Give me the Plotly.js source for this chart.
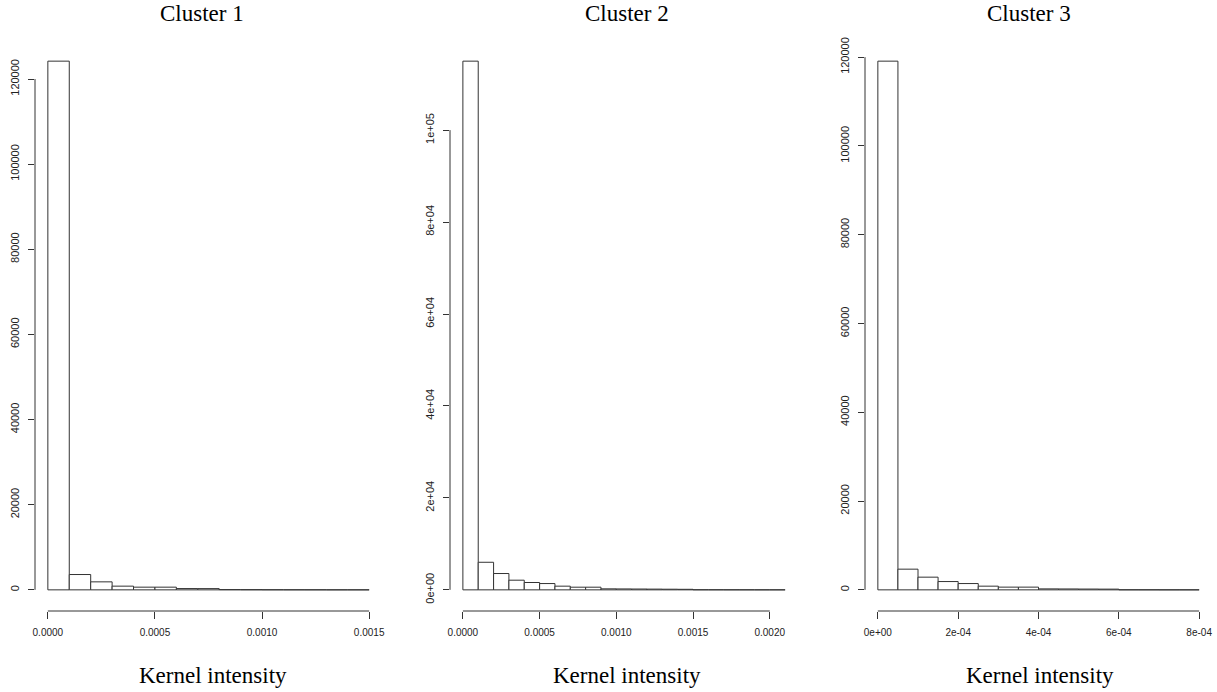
<!DOCTYPE html>
<html>
<head>
<meta charset="utf-8">
<script src="https://cdn.plot.ly/plotly-3.0.1.min.js"></script>
<style>html,body{margin:0;padding:0;background:#fff;}#chart{width:1217px;height:692px;}</style>
</head>
<body>
<div id="chart"></div>
<script>
// ---- data ----
const titles = ["Cluster 1", "Cluster 2", "Cluster 3"];
const xTitle = "Kernel intensity";

const binWidth1 = 0.0001;
const counts1 = [124200, 3600, 1880, 870, 630, 630, 300, 290, 60, 40, 25, 15, 10, 6, 4];
const binWidth2 = 0.0001;
const counts2 = [115000, 6000, 3550, 2100, 1600, 1370, 800, 580, 580, 220, 200, 180, 160, 140, 120, 20, 15, 10, 8, 5, 4];
const binWidth3 = 0.00005;
const counts3 = [119100, 4660, 2860, 1870, 1420, 830, 610, 610, 220, 200, 180, 160, 15, 10, 6, 4];

const xTicks1 = [0, 0.0005, 0.0010, 0.0015];
const xTickText1 = ["0.0000", "0.0005", "0.0010", "0.0015"];
const xTicks2 = [0, 0.0005, 0.0010, 0.0015, 0.0020];
const xTickText2 = ["0.0000", "0.0005", "0.0010", "0.0015", "0.0020"];
const xTicks3 = [0, 0.0002, 0.0004, 0.0006, 0.0008];
const xTickText3 = ["0e+00", "2e-04", "4e-04", "6e-04", "8e-04"];

const yTicks1 = [0, 20000, 40000, 60000, 80000, 100000, 120000];
const yTickText1 = ["0", "20000", "40000", "60000", "80000", "100000", "120000"];
const yTicks2 = [0, 20000, 40000, 60000, 80000, 100000];
const yTickText2 = ["0e+00", "2e+04", "4e+04", "6e+04", "8e+04", "1e+05"];
const yTicks3 = [0, 20000, 40000, 60000, 80000, 100000, 120000];
const yTickText3 = ["0", "20000", "40000", "60000", "80000", "100000", "120000"];

// ---- build ----
const W = 1217, H = 692;
const panels = [
  {counts: counts1, w: binWidth1, xt: xTicks1, xtt: xTickText1, yt: yTicks1, ytt: yTickText1, px: [35, 382], tx: 202, kx: 213},
  {counts: counts2, w: binWidth2, xt: xTicks2, xtt: xTickText2, yt: yTicks2, ytt: yTickText2, px: [450, 798], tx: 627, kx: 627},
  {counts: counts3, w: binWidth3, xt: xTicks3, xtt: xTickText3, yt: yTicks3, ytt: yTickText3, px: [865, 1212], tx: 1029, kx: 1040}
];
const yDom = [(H - 611) / H, (H - 40) / H];
const lineCol = "#333";
const data = [], shapes = [], annotations = [];
const layout = {
  width: W, height: H,
  margin: {l: 0, r: 0, t: 0, b: 0},
  paper_bgcolor: "#fff", plot_bgcolor: "#fff",
  showlegend: false,
  font: {family: "Liberation Sans, Arial, sans-serif", color: "#222"}
};
panels.forEach((p, i) => {
  const n = i === 0 ? "" : String(i + 1);
  const xa = "x" + n, ya = "y" + n;
  const centers = p.counts.map((_, k) => (k + 0.5) * p.w);
  const xmax = p.counts.length * p.w;
  const ymax = Math.max(...p.counts);
  data.push({
    type: "bar", x: centers, y: p.counts, width: p.w,
    xaxis: xa, yaxis: ya,
    marker: {color: "#fff", line: {color: lineCol, width: 1}},
    hoverinfo: "x+y"
  });
  layout["xaxis" + n] = {
    domain: [p.px[0] / W, p.px[1] / W], anchor: ya,
    range: [-0.04 * xmax, 1.04 * xmax],
    showgrid: false, zeroline: false, showline: false,
    tickmode: "array", tickvals: p.xt, ticktext: p.xtt,
    ticks: "outside", ticklen: 7, tickwidth: 1, tickcolor: lineCol,
    ticklabelstandoff: 5,
    tickfont: {size: 10, family: "Liberation Sans, Arial, sans-serif", color: "#222"}
  };
  layout["yaxis" + n] = {
    domain: yDom, anchor: xa,
    range: [-0.04 * ymax, 1.04 * ymax],
    showgrid: false, zeroline: false, showline: false,
    tickmode: "array", tickvals: p.yt, ticktext: p.ytt,
    ticks: "outside", ticklen: 6, tickwidth: 1, tickcolor: lineCol,
    tickangle: -90, ticklabelstandoff: 5,
    tickfont: {size: 11, family: "Liberation Sans, Arial, sans-serif", color: "#222"}
  };
  shapes.push({type: "line", xref: xa, yref: ya + " domain",
    x0: p.xt[0], x1: p.xt[p.xt.length - 1], y0: 0, y1: 0,
    line: {color: lineCol, width: 1}});
  shapes.push({type: "line", xref: xa + " domain", yref: ya,
    x0: 0, x1: 0, y0: p.yt[0], y1: p.yt[p.yt.length - 1],
    line: {color: lineCol, width: 1}});
  annotations.push({text: titles[i], xref: "paper", yref: "paper",
    x: p.tx / W, y: 1 - 14 / H, xanchor: "center", yanchor: "middle", showarrow: false,
    font: {family: "Liberation Serif, Times New Roman, serif", size: 23, color: "#000"}});
  annotations.push({text: xTitle, xref: "paper", yref: "paper",
    x: p.kx / W, y: 1 - 675 / H, xanchor: "center", yanchor: "middle", showarrow: false,
    font: {family: "Liberation Serif, Times New Roman, serif", size: 23, color: "#000"}});
});
layout.shapes = shapes;
layout.annotations = annotations;
Plotly.newPlot("chart", data, layout, {displayModeBar: false});
</script>
</body>
</html>
